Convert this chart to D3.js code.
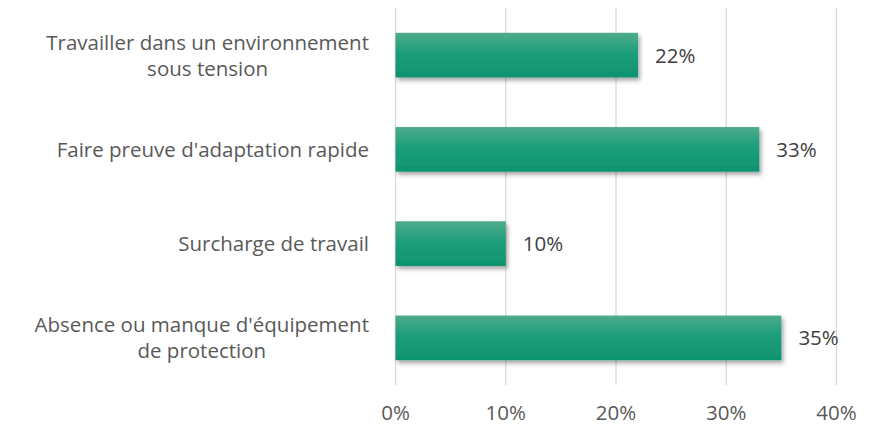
<!DOCTYPE html>
<html><head><meta charset="utf-8">
<script src="https://cdn.jsdelivr.net/npm/d3@7"></script>
<style>body{margin:0;background:#fff}svg{display:block}</style>
</head><body>
<svg id="c" width="871" height="426"></svg>
<script>
const categories = [
  ["Travailler dans un environnement", "sous tension"],
  ["Faire preuve d'adaptation rapide"],
  ["Surcharge de travail"],
  ["Absence ou manque d'équipement", "de protection"]
];
const values = [22, 33, 10, 35];
const tickValues = [0, 10, 20, 30, 40];

const svg = d3.select("#c");
const font = "'Open Sans', sans-serif";
const fs = 20.5;
const x = d3.scaleLinear().domain([0, 40]).range([395.5, 836.5]);
const y = d3.scaleBand().domain(d3.range(categories.length)).range([8, 385])
  .paddingInner(0.526).paddingOuter(0.263);

const defs = svg.append("defs");
const g = defs.append("linearGradient").attr("id","bg").attr("x1",0).attr("y1",0).attr("x2",0).attr("y2",1);
g.append("stop").attr("offset","0%").attr("stop-color","#4fab8c");
g.append("stop").attr("offset","45%").attr("stop-color","#1d9e7b");
g.append("stop").attr("offset","100%").attr("stop-color","#0e9370");
const f = defs.append("filter").attr("id","sh").attr("x","-10%").attr("y","-30%").attr("width","130%").attr("height","170%");
f.append("feDropShadow").attr("dx",2).attr("dy",3).attr("stdDeviation",2.2).attr("flood-color","#000").attr("flood-opacity",0.35);

// gridlines
svg.append("g").selectAll("line").data(tickValues).join("line")
  .attr("x1", d => x(d)).attr("x2", d => x(d))
  .attr("y1", 8).attr("y2", 385)
  .attr("stroke", "#d9d9d9").attr("stroke-width", 1.3);

// tick labels
svg.append("g").selectAll("text").data(tickValues).join("text")
  .attr("x", d => x(d)).attr("y", 420)
  .attr("text-anchor", "middle")
  .attr("font-family", font).attr("font-size", fs).attr("fill", "#595959")
  .text(d => d + "%");

// bars
svg.append("g").selectAll("rect").data(values).join("rect")
  .attr("x", x(0)).attr("y", (d,i) => y(i))
  .attr("width", d => x(d) - x(0)).attr("height", y.bandwidth())
  .attr("fill", "url(#bg)").attr("filter", "url(#sh)");

// value labels
svg.append("g").selectAll("text").data(values).join("text")
  .attr("x", d => x(d) + 17).attr("y", (d,i) => y(i) + y.bandwidth()/2 + 7.5)
  .attr("font-family", font).attr("font-size", fs).attr("fill", "#404040")
  .text(d => d + "%");

// category labels
const lh = 26;
categories.forEach((lines, i) => {
  const cy = y(i) + y.bandwidth()/2;
  const grp = svg.append("g");
  const texts = lines.map((t, j) => grp.append("text")
    .attr("y", cy + (j - (lines.length-1)/2) * lh + 7.5)
    .attr("font-family", font).attr("font-size", fs).attr("fill", "#595959")
    .attr("text-anchor", "middle").text(t));
  const w = d3.max(texts, t => t.node().getComputedTextLength());
  const right = 369;
  texts.forEach(t => t.attr("x", right - w/2));
});
</script>
</body></html>
